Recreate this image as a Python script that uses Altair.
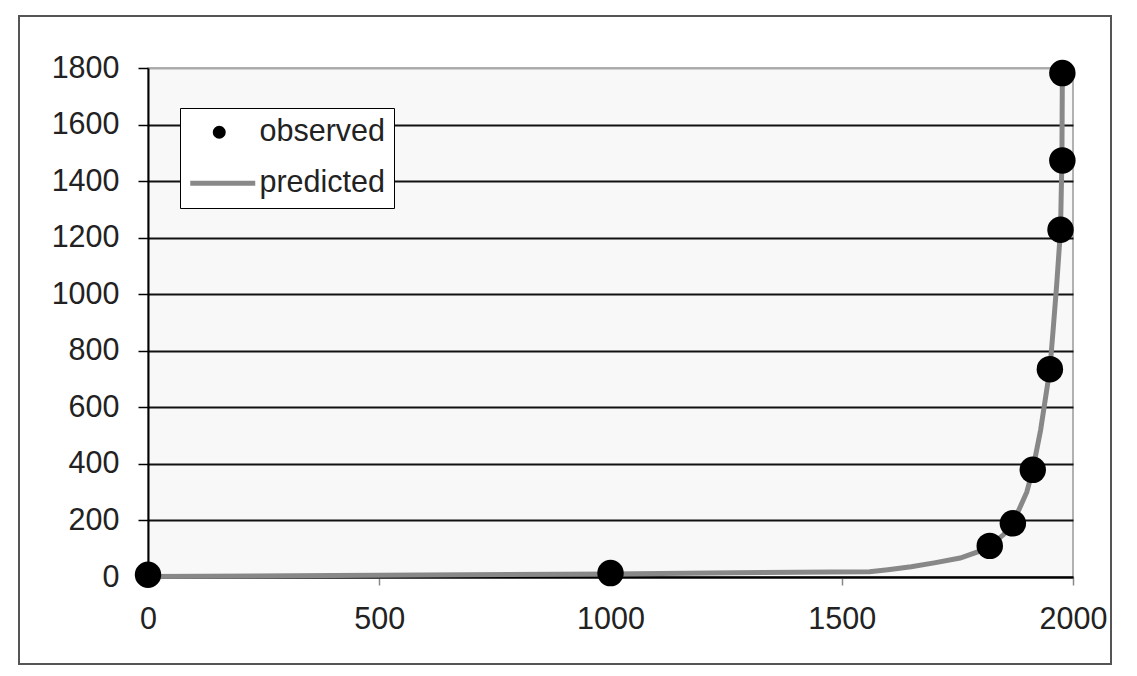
import altair as alt
import pandas as pd

# observed points (year, value)
obs_years = [0, 1000, 1820, 1870, 1913, 1950, 1973, 1977, 1977]
obs_vals = [8, 14, 110, 190, 379, 735, 1228, 1473, 1782]

# predicted curve
pred_years = [0, 400, 1000, 1270, 1560, 1600, 1650, 1700, 1756, 1800, 1820, 1850,
              1870, 1900, 1913, 1930, 1950, 1957, 1965, 1973, 1976, 1977]
pred_vals = [2, 5, 11, 15, 19, 26, 36, 50, 67, 92, 110, 150,
             190, 300, 379, 520, 735, 873, 1040, 1228, 1473, 1782]

series_names = ["observed", "predicted"]
x_ticks = [0, 500, 1000, 1500, 2000]
y_ticks = list(range(0, 1801, 200))

obs = pd.DataFrame({"x": obs_years, "y": obs_vals, "series": "observed"})
pred = pd.DataFrame({"x": pred_years, "y": pred_vals})
frame_df = pd.DataFrame({"a": [0]})

FONT = "Liberation Sans"
FS = 30.5

xscale = alt.Scale(domain=[0, 2000], nice=False)
yscale = alt.Scale(domain=[0, 1800], nice=False)

xaxis = alt.Axis(values=x_ticks, grid=False, tickSize=8, tickColor="#888", tickWidth=1.5,
                 domainColor="black", domainWidth=2, labelFontSize=FS, labelFont=FONT,
                 labelColor="#222", labelPadding=19, labelFlush=False, labelOverlap=False,
                 title=None, format="d")
yaxis = alt.Axis(values=y_ticks, grid=True,
                 gridColor={"condition": {"test": "datum.value == 1800", "value": "#aaaaaa"}, "value": "#111111"},
                 gridWidth=1.8, tickSize=10, tickColor="black", tickWidth=1.5,
                 domainColor="black", domainWidth=2, labelFontSize=FS, labelFont=FONT,
                 labelColor="#222", labelPadding=19, title=None, format="d")

circle_path = "M2.75,0A1,1 0 1,0 4.75,0A1,1 0 1,0 2.75,0Z"
line_path = "M-3.5,0L12.75,0"

leg = alt.Legend(title=None, orient="none", legendX=32, legendY=40, fillColor="white",
                 strokeColor="black", padding=9, rowPadding=20,
                 labelFont=FONT, labelFontSize=FS, labelColor="#222", labelOffset=40,
                 symbolSize=64, symbolStrokeWidth=5, labelBaseline="middle")

legend_layer = alt.Chart(obs).transform_filter("datum.y < -1").mark_point(
    filled=True, opacity=1
).encode(
    x=alt.X("x:Q", scale=xscale, axis=xaxis),
    y=alt.Y("y:Q", scale=yscale, axis=yaxis),
    color=alt.Color("series:N", scale=alt.Scale(domain=series_names, range=["black", "#888888"]), legend=leg),
    stroke=alt.Stroke("series:N", scale=alt.Scale(domain=series_names, range=["black", "#888888"]), legend=leg),
    shape=alt.Shape("series:N", scale=alt.Scale(domain=series_names, range=[circle_path, line_path]), legend=leg),
)

line = alt.Chart(pred).mark_line(color="#888888", strokeWidth=5).encode(
    x=alt.X("x:Q", scale=xscale, axis=xaxis),
    y=alt.Y("y:Q", scale=yscale, axis=yaxis),
)

points = alt.Chart(obs).mark_point(filled=True, color="black", size=700, opacity=1).encode(
    x=alt.X("x:Q", scale=xscale, axis=xaxis),
    y=alt.Y("y:Q", scale=yscale, axis=yaxis),
)

frame = alt.Chart(frame_df).mark_rect(filled=False, stroke="#555555", strokeWidth=2).encode(
    x=alt.value(-129), x2=alt.value(963), y=alt.value(-52), y2=alt.value(596)
)

chart = alt.layer(frame, legend_layer, line, points).properties(
    width=925, height=509,
    autosize=alt.AutoSizeParams(type="none"),
    padding={"left": 140, "top": 60, "right": 50, "bottom": 88},
).configure_view(fill="#f8f8f8", stroke="#999999", strokeWidth=1.5)

chart.save("out.html", embed_options={"renderer": "svg", "actions": False})
